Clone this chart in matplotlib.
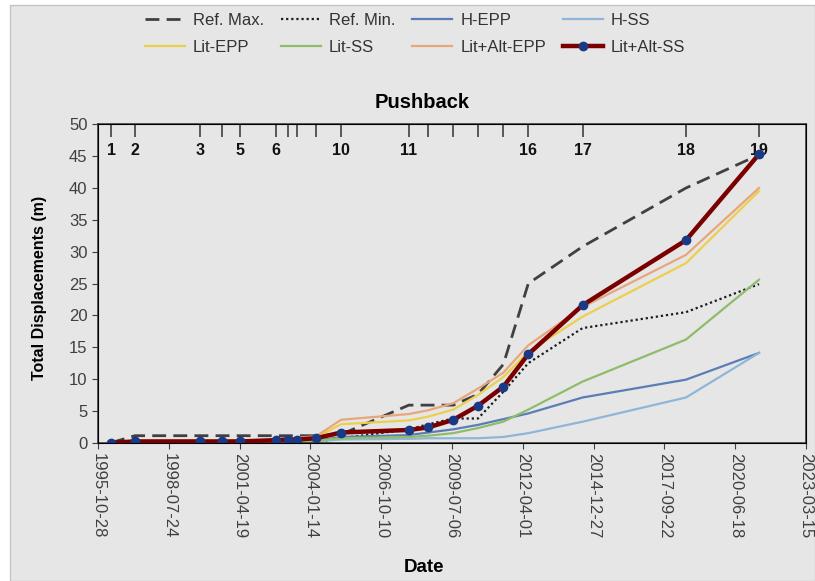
import matplotlib
matplotlib.use("Agg")
import matplotlib.pyplot as plt
import matplotlib.dates as mdates
import matplotlib.transforms as mtransforms
from matplotlib.patches import Rectangle
import numpy as np

plt.rcParams['font.family'] = ['Liberation Sans', 'DejaVu Sans']

# event dates (top axis markers), labels shown only for some of them
event_dates = ['1996-04-29', '1997-04-03', '1999-10-09', '2000-08-10', '2001-04-26',
               '2002-09-16', '2003-03-09', '2003-07-14', '2004-04-03', '2005-03-22',
               '2007-11-04', '2008-08-06', '2009-07-24', '2010-07-08', '2011-07-01',
               '2012-06-18', '2014-07-25', '2018-07-24', '2021-05-20']
event_labels = ['1', '2', '3', '', '5', '6', '', '', '', '10',
                '11', '', '', '', '', '16', '17', '18', '19']

date_ticks = ['1995-10-28', '1998-07-24', '2001-04-19', '2004-01-14', '2006-10-10',
              '2009-07-06', '2012-04-01', '2014-12-27', '2017-09-22', '2020-06-18',
              '2023-03-15']

ref_max = [0, 1.1, 1.1, 1.1, 1.1, 1.1, 1.1, 1.1, 1.1, 1.3, 5.9, 5.9, 5.9, 7.6, 12.3, 25.0, 30.8, 40.0, 45.2]
ref_min = [0, 0, 0, 0, 0, 0, 0, 0, 0.1, 0.7, 2.1, 2.9, 3.8, 3.8, 8.0, 12.5, 18.0, 20.5, 24.9]
h_epp = [0, 0, 0, 0, 0, 0.1, 0.2, 0.2, 0.3, 0.9, 1.2, 1.6, 2.1, 2.8, 3.7, 4.6, 7.1, 9.9, 14.1]
h_ss = [0, 0, 0, 0, 0, 0.1, 0.1, 0.1, 0.2, 0.5, 0.6, 0.7, 0.7, 0.7, 0.9, 1.5, 3.3, 7.1, 14.1]
lit_epp = [0, 0.1, 0.2, 0.2, 0.2, 0.4, 0.5, 0.6, 0.8, 2.9, 3.5, 4.1, 5.2, 7.5, 10.3, 14.3, 19.8, 28.2, 39.5]
lit_ss = [0, 0, 0, 0, 0, 0.1, 0.2, 0.2, 0.3, 0.7, 0.9, 1.1, 1.5, 2.3, 3.3, 5.2, 9.6, 16.2, 25.6]
lit_alt_epp = [0, 0.2, 0.3, 0.3, 0.3, 0.5, 0.7, 0.8, 1.0, 3.6, 4.5, 5.1, 6.2, 8.5, 11.0, 15.3, 21.3, 29.5, 40.0]
lit_alt_ss = [0, 0.2, 0.2, 0.2, 0.2, 0.4, 0.5, 0.5, 0.7, 1.6, 2.0, 2.4, 3.6, 5.8, 8.8, 13.9, 21.6, 31.8, 45.3]

x = mdates.datestr2num(event_dates)
xticks = mdates.datestr2num(date_ticks)

fig = plt.figure(figsize=(8.15, 5.81), dpi=100, facecolor='white')
fig.patches.append(Rectangle((10 / 815, 0), 1 - 10 / 815, 1 - 5 / 581, transform=fig.transFigure,
                             facecolor='#E6E6E6', edgecolor='#C4C4C4', lw=1, zorder=-10))

ax = fig.add_axes([98 / 815, 1 - 442.7 / 581, 708 / 815, 318.4 / 581])
ax.set_facecolor('#E6E6E6')

ax.plot(x, ref_max, color='#404040', lw=2, ls=(0, (5, 2.6)), label='Ref. Max.')
ax.plot(x, ref_min, color='#1a1a1a', lw=1.6, ls=(0, (1, 1.3)), label='Ref. Min.')
ax.plot(x, h_epp, color='#5B7DB6', lw=1.6, label='H-EPP')
ax.plot(x, h_ss, color='#8FB6D8', lw=1.6, label='H-SS')
ax.plot(x, lit_epp, color='#EBD04C', lw=1.6, label='Lit-EPP')
ax.plot(x, lit_ss, color='#8DBD6A', lw=1.6, label='Lit-SS')
ax.plot(x, lit_alt_epp, color='#E8A67C', lw=1.6, label='Lit+Alt-EPP')
ax.plot(x, lit_alt_ss, color='#7A0000', lw=3.2, marker='o', ms=6,
        markerfacecolor='#1B3A86', markeredgecolor='#1B3A86', label='Lit+Alt-SS', zorder=5)

ax.set_xlim(xticks[0], xticks[-1])
ax.set_ylim(0, 50)
ax.set_yticks(np.arange(0, 51, 5))
ax.set_xticks(xticks)
ax.set_xticklabels(date_ticks, rotation=270, fontsize=12, color='#404040')
ax.tick_params(axis='y', labelsize=12, labelcolor='#404040', direction='out', length=4, color='#404040')
ax.tick_params(axis='x', direction='out', length=4, color='#404040')
for sp in ax.spines.values():
    sp.set_color('#404040')
    sp.set_linewidth(1.2)

# top axis with event ticks
ax2 = ax.twiny()
ax2.set_xlim(ax.get_xlim())
ax2.set_xticks(x)
ax2.tick_params(axis='x', direction='in', length=9, width=1.2, color='#404040', labeltop=False)
trans = mtransforms.blended_transform_factory(ax.transData, ax.transAxes)
for xi, lab in zip(x, event_labels):
    if lab:
        ax.text(xi, 0.919, lab, transform=trans, ha='center', va='center',
                fontsize=11.5, fontweight='bold', color='#111111', zorder=1)

# legend filled row by row (matplotlib fills columns first)
handles, labels = ax.get_legend_handles_labels()
order = [0, 4, 1, 5, 2, 6, 3, 7]
fig.legend([handles[i] for i in order], [labels[i] for i in order],
           loc='center', bbox_to_anchor=(415 / 815, 1 - 34 / 581), ncol=4, frameon=False,
           fontsize=12, handlelength=2.4, handletextpad=0.5, columnspacing=1.0,
           labelspacing=0.75, labelcolor='#333333')

fig.text(422 / 815, 1 - 103 / 581, 'Pushback', ha='center', va='center',
         fontsize=14.5, fontweight='bold')
fig.text(424 / 815, 1 - 568 / 581, 'Date', ha='center', va='center',
         fontsize=13.5, fontweight='bold')
fig.text(40 / 815, 1 - 288 / 581, 'Total Displacements (m)', ha='center', va='center',
         rotation=90, fontsize=11.5, fontweight='bold')

fig.savefig('out.png', dpi=100, facecolor=fig.get_facecolor())
